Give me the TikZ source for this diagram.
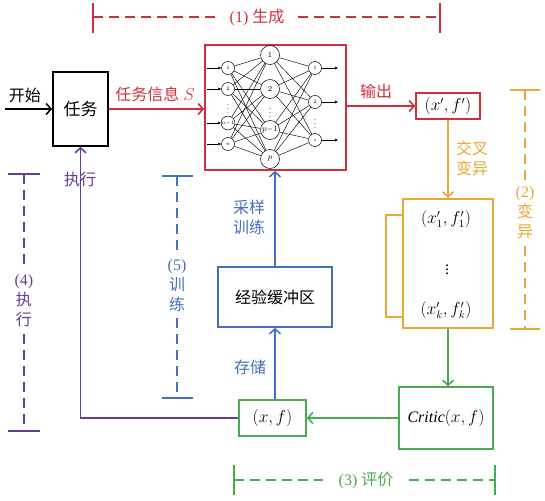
\documentclass[tikz,border=0pt]{standalone}
\usepackage{fontspec}
\setmainfont{Liberation Serif}
\newfontfamily\cjk{Noto Sans CJK SC}
\newcommand\zh[1]{{\cjk #1}}
\usetikzlibrary{arrows.meta}
\definecolor{cred}{RGB}{205,50,60}
\definecolor{corange}{RGB}{232,168,56}
\definecolor{cgreen}{RGB}{72,170,82}
\definecolor{cblue}{RGB}{68,112,190}
\definecolor{cpurple}{RGB}{100,62,148}
\begin{document}
\begin{tikzpicture}[x=1pt,y=-1pt,line width=1.6pt,
  >={Straight Barb[length=5pt,width=11pt]},
  box/.style={draw,rectangle,inner sep=0pt},
  lbl/.style={font=\fontsize{16}{20}\selectfont, align=center, inner sep=1pt},
  dashln/.style={line width=1.4pt,dash pattern=on 10pt off 6pt},
  tick/.style={line width=1.4pt},
  neu/.style={circle,draw,line width=0.5pt,fill=white,inner sep=0pt,minimum size=13pt,font=\fontsize{5.5}{5.5}\selectfont},
  hneu/.style={neu,minimum size=19pt,font=\fontsize{8.5}{8.5}\selectfont},
  nnl/.style={line width=0.45pt,black}]
\useasboundingbox (0,0) rectangle (545,500);

% boxes
\node[box,minimum width=55pt,minimum height=74pt,lbl,font=\fontsize{17}{20}\selectfont] (task) at (80.5,109) {\zh{任务}};
\node[box,cred,minimum width=141pt,minimum height=125pt] (nn) at (275.5,107.5) {};
\node[box,cred,minimum width=64pt,minimum height=26pt,lbl,text=black] (out) at (448,106) {$(x', f')$};
\node[box,corange,line width=2.4pt,minimum width=90pt,minimum height=129pt] (pop) at (448,263.5) {};
\node[lbl] (p1) at (446,219) {$(x'_1, f'_1)$};
\node[lbl,inner sep=0pt] (pd) at (447,267) {$\vdots$};
\node[lbl] (pk) at (446,310) {$(x'_k, f'_k)$};
\node[box,cgreen,minimum width=94pt,minimum height=62pt,lbl,text=black] (critic) at (446,418) {$\mathit{Critic}(x, f)$};
\node[box,cgreen,minimum width=67pt,minimum height=36pt,lbl,text=black] (xf) at (272.5,418) {$(x, f)$};
\node[box,cblue,minimum width=114pt,minimum height=60pt,lbl,text=black] (buf) at (275,297) {\zh{经验缓冲区}};

% neural network
\node[neu] (i1) at (228,68) {$1$};
\node[neu] (i2) at (228,89) {$2$};
\node[neu] (i3) at (228,123) {$n{-}1$};
\node[neu] (i4) at (228,144) {$n$};
\node[hneu] (h1) at (270,55) {$1$};
\node[hneu] (h2) at (270,89) {$2$};
\node[hneu] (h3) at (270,130) {$p{-}1$};
\node[hneu] (h4) at (270,159) {$p$};
\node[neu] (o1) at (315,68) {$1$};
\node[neu] (o2) at (315,102) {$2$};
\node[neu] (o3) at (315,140) {$s$};
\node[font=\fontsize{7}{7}\selectfont,inner sep=0pt] (di) at (228,106) {$\vdots$};
\node[font=\fontsize{8}{8}\selectfont,inner sep=0pt] (dh) at (270,110) {$\vdots$};
\node[font=\fontsize{7}{7}\selectfont,inner sep=0pt] (do) at (315,121) {$\vdots$};
\foreach \a in {1,...,4} \foreach \b in {1,...,4} \draw[nnl] (i\a) -- (h\b);
\foreach \a in {1,...,4} \foreach \b in {1,2,3} \draw[nnl] (h\a) -- (o\b);
\foreach \n/\y in {1/68,2/89,3/123,4/144} {
  \coordinate (ia\n) at (207,\y);
  \draw[nnl,-{Latex[length=3pt,width=3pt]}] (ia\n) -- (i\n);
}
\foreach \n/\y in {1/68,2/102,3/140} {
  \coordinate (oa\n) at (338,\y);
  \draw[nnl,-{Latex[length=3pt,width=3pt]}] (o\n) -- (oa\n);
}

% connectors
\coordinate (start) at (5,109);
\draw[->] (start) -- (task.west);
\node[lbl] (lstart) at (25,95) {\zh{开始}};
\draw[->,cred] (task.east) -- (task.east -| nn.west);
\node[lbl,text=cred] (linfo) at (155,94) {\zh{任务信息} $S$};
\draw[->,cred] (nn.east |- out) -- (out.west);
\node[lbl,text=cred] (lout) at (376,91) {\zh{输出}};
\draw[->,corange] (out.south) -- (pop.north);
\node[lbl,text=corange] (lcross) at (472,158) {\zh{交叉}\\\zh{变异}};
\coordinate (b1) at (403,215);
\coordinate (b2) at (386,215);
\coordinate (b3) at (386,317);
\coordinate (b4) at (403,317);
\draw[corange,line width=1.3pt] (b1) -- (b2) -- (b3) -- (b4);
\draw[->,cgreen] (pop.south) -- (pop.south |- critic.north);
\draw[->,cgreen] (critic.west) -- (xf.east);
\draw[->,cblue] (buf.south |- xf.north) -- (buf.south);
\node[lbl,text=cblue] (lstore) at (250,367) {\zh{存储}};
\draw[->,cblue] (buf.north) -- (buf.north |- nn.south);
\node[lbl,text=cblue] (lsample) at (249,217) {\zh{采样}\\\zh{训练}};
\draw[->,cpurple] (xf.west) -| (task.south);
\node[lbl,text=cpurple] (lexec) at (80,179) {\zh{执行}};

% brackets
% (1)
\draw[cred,dashln] (93,17) -- (216,17) (298,17) -- (440,17);
\draw[cred,tick] (93,3) -- (93,33) (440,3) -- (440,33);
\node[lbl,text=cred] (l1) at (257,17) {(1) \zh{生成}};
% (2)
\draw[corange,dashln] (525,90) -- (525,180) (525,246) -- (525,329);
\draw[corange,tick] (510,90) -- (540,90) (510,329) -- (540,329);
\node[lbl,text=corange] (l2) at (525,213) {(2)\\\zh{变}\\\zh{异}};
% (3)
\draw[cgreen,dashln] (234,480) -- (323,480) (409,480) -- (495,480);
\draw[cgreen,tick] (234,465) -- (234,495) (495,465) -- (495,495);
\node[lbl,text=cgreen] (l3) at (366,480) {(3) \zh{评价}};
% (4)
\draw[cpurple,dashln] (24,174) -- (24,270) (24,334) -- (24,431);
\draw[cpurple,tick] (8,174) -- (40,174) (8,431) -- (40,431);
\node[lbl,text=cpurple] (l4) at (24,301) {(4)\\\zh{执}\\\zh{行}};
% (5)
\draw[cblue,dashln] (177,176) -- (177,256) (177,318) -- (177,398);
\draw[cblue,tick] (162,176) -- (193,176) (162,398) -- (193,398);
\node[lbl,text=cblue] (l5) at (177,286) {(5)\\\zh{训}\\\zh{练}};
\end{tikzpicture}
\end{document}
